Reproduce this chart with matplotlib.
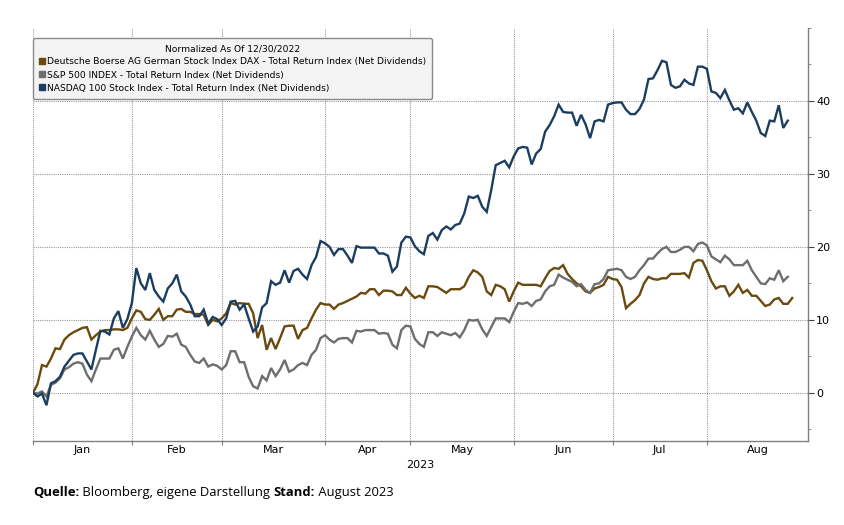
import numpy as np
import pandas as pd
import matplotlib.pyplot as plt
from matplotlib.lines import Line2D
from matplotlib.ticker import FixedLocator, NullFormatter

# Trading calendar of the chart (weekdays, without Jan 2 and Good Friday)
days = pd.bdate_range('2022-12-30', '2023-08-31')
days = days.drop(pd.to_datetime(['2023-01-02', '2023-04-07']))

months = ['Jan', 'Feb', 'Mar', 'Apr', 'May', 'Jun', 'Jul', 'Aug']
year_label = '2023'
legend_title = 'Normalized As Of 12/30/2022'
names = ['Deutsche Boerse AG German Stock Index DAX - Total Return Index (Net Dividends)',
         'S&P 500 INDEX - Total Return Index (Net Dividends)',
         'NASDAQ 100 Stock Index - Total Return Index (Net Dividends)']
colors = ['#6b4a0f', '#6e6e6e', '#1b3e60']
y_ticks = [0, 10, 20, 30, 40]

# performance in % since 12/30/2022, one value per trading day
dax = [0, 1.2, 3.8, 3.6, 4.7, 6.1, 6.0, 7.3, 7.9, 8.3,
       8.6, 8.9, 9.0, 7.3, 7.9, 8.4, 8.6, 8.6, 8.7, 8.7,
       8.6, 8.9, 10.2, 11.3, 11.1, 10.1, 10.0, 10.7, 11.5, 10.0,
       10.5, 10.5, 11.4, 11.5, 11.1, 11.1, 10.8, 10.8, 10.7, 9.3,
       10.0, 9.8, 10.2, 10.9, 12.3, 12.1, 12.3, 12.2, 12.2, 10.9,
       7.5, 9.3, 5.9, 7.5, 6.0, 7.5, 9.1, 9.2, 9.2, 7.4,
       8.6, 8.9, 10.2, 11.4, 12.3, 12.1, 12.1, 11.5, 12.1, 12.3,
       12.6, 12.9, 13.2, 13.7, 13.6, 14.2, 14.2, 13.4, 14.0, 14.0,
       13.9, 13.4, 13.4, 14.4, 13.6, 13.0, 13.3, 13.0, 14.6, 14.6,
       14.5, 14.1, 13.7, 14.2, 14.2, 14.2, 14.6, 15.9, 16.8, 16.5,
       15.9, 13.9, 13.4, 14.8, 14.6, 14.2, 12.5, 13.9, 15.1, 14.8,
       14.8, 14.8, 14.8, 14.6, 15.7, 16.7, 17.1, 17.0, 17.5, 16.3,
       15.6, 15.0, 14.6, 13.9, 13.7, 14.3, 14.5, 14.8, 15.9, 15.6,
       15.5, 14.5, 11.6, 12.2, 12.7, 13.4, 15.0, 15.9, 15.6, 15.5,
       15.7, 15.7, 16.3, 16.3, 16.3, 16.4, 15.8, 17.8, 18.2, 18.1,
       16.8, 15.3, 14.3, 14.6, 14.6, 13.3, 13.9, 14.8, 13.7, 14.1,
       13.3, 13.3, 12.6, 11.9, 12.1, 12.8, 13.0, 12.2, 12.2, 13.0]

spx = [0, -0.1, 0.2, -0.5, 1.1, 1.4, 2.0, 3.2, 3.5, 4.0,
       4.2, 4.0, 2.5, 1.6, 3.2, 4.7, 4.7, 4.7, 5.9, 6.1,
       4.7, 6.3, 7.7, 8.9, 7.9, 7.3, 8.5, 7.3, 6.3, 6.7,
       7.8, 7.7, 8.1, 6.6, 6.3, 5.2, 4.3, 4.1, 4.7, 3.6,
       3.9, 3.7, 3.2, 3.8, 5.7, 5.7, 4.2, 4.2, 2.2, 0.9,
       0.6, 2.3, 1.7, 3.4, 2.3, 3.2, 4.5, 2.9, 3.2, 3.8,
       4.1, 3.8, 5.2, 5.9, 7.5, 7.9, 7.3, 6.9, 7.4, 7.5,
       7.5, 6.9, 8.5, 8.4, 8.6, 8.6, 8.6, 8.1, 8.2, 8.1,
       6.6, 6.1, 8.6, 9.2, 9.1, 7.4, 6.7, 6.3, 8.3, 8.3,
       7.8, 8.3, 8.1, 7.9, 8.2, 7.6, 8.6, 10.0, 9.9, 10.0,
       8.7, 7.8, 9.0, 10.2, 10.2, 10.2, 9.7, 11.1, 12.3, 12.2,
       12.4, 11.9, 12.6, 12.8, 13.9, 14.6, 14.8, 16.2, 15.8, 15.5,
       15.2, 14.6, 14.9, 14.1, 13.7, 14.9, 15.0, 15.6, 16.8, 16.9,
       17.0, 16.8, 15.9, 15.6, 15.9, 16.8, 17.5, 18.4, 18.4, 19.1,
       19.7, 20.0, 19.3, 19.3, 19.6, 20.0, 20.0, 19.4, 20.4, 20.6,
       20.2, 18.7, 18.3, 17.9, 18.8, 18.3, 17.5, 17.5, 17.5, 18.1,
       16.8, 15.9, 15.0, 14.9, 15.7, 15.5, 16.8, 15.3, 15.9]

ndx = [0, -0.5, -0.1, -1.7, 1.3, 1.6, 2.2, 3.6, 4.4, 5.2,
       5.4, 5.4, 4.3, 3.2, 5.9, 8.5, 8.4, 8.0, 10.2, 11.2,
       8.9, 10.1, 12.3, 17.1, 15.0, 14.1, 16.4, 14.1, 13.2, 12.5,
       14.3, 15.0, 16.2, 13.9, 13.2, 12.1, 10.5, 10.5, 11.4, 9.5,
       10.4, 10.1, 9.3, 10.2, 12.5, 12.6, 11.4, 12.1, 10.2, 8.4,
       9.1, 11.7, 12.3, 15.3, 14.8, 15.1, 16.8, 15.1, 16.7, 17.0,
       16.2, 15.6, 17.5, 18.6, 20.8, 20.5, 20.0, 18.9, 19.7, 19.7,
       18.8, 17.8, 20.1, 19.9, 19.9, 19.9, 19.9, 19.1, 19.1, 18.8,
       16.6, 17.3, 20.6, 21.4, 21.3, 20.1, 19.4, 19.0, 21.5, 21.9,
       21.0, 22.3, 22.8, 22.4, 23.0, 23.2, 24.6, 26.9, 26.7, 27.0,
       25.5, 24.8, 27.8, 31.2, 31.5, 31.8, 30.9, 32.4, 33.5, 33.7,
       33.6, 31.3, 32.8, 33.4, 35.8, 36.7, 37.9, 39.5, 38.5, 38.4,
       38.4, 36.6, 38.1, 36.8, 34.9, 37.2, 37.4, 37.2, 39.5, 39.7,
       39.8, 39.8, 38.8, 38.2, 38.2, 38.9, 40.2, 43.0, 43.1, 44.2,
       45.5, 45.3, 42.2, 41.8, 42.0, 42.9, 42.4, 42.2, 44.7, 44.7,
       44.4, 41.3, 41.1, 40.4, 41.5, 40.1, 38.8, 39.0, 38.3, 39.8,
       38.5, 37.3, 35.6, 35.2, 37.3, 37.2, 39.4, 36.3, 37.3]

fig = plt.figure(figsize=(8.44, 5.25), dpi=100)
ax = fig.add_axes([0.0391, 0.160, 0.9182, 0.7867])

for values, color, name in zip([dax, spx, ndx], colors, names):
    ax.plot(np.arange(len(values)), values, color=color, lw=1.7, label=name,
            solid_joinstyle='miter')

# month boundaries on the trading-day axis
x_right = len(days) - 1 + 0.5
edges = [0] + [int(np.argmax(days.month == m)) for m in range(2, 9)] + [x_right]
centers = [(a + b) / 2 for a, b in zip(edges[:-1], edges[1:])]

ax.set_xlim(0, x_right)
ax.set_ylim(-6.6, 50)

ax.xaxis.set_major_locator(FixedLocator(edges[:-1]))
ax.xaxis.set_major_formatter(NullFormatter())
ax.xaxis.set_minor_locator(FixedLocator(centers))
ax.set_xticklabels(months, minor=True)
ax.tick_params(axis='x', which='major', length=3, color='#808080')
ax.tick_params(axis='x', which='minor', length=0, labelsize=8, pad=3)

ax.yaxis.tick_right()
ax.set_yticks(y_ticks)
ax.yaxis.set_minor_locator(FixedLocator([-5, 5, 15, 25, 35, 45, 50]))
ax.tick_params(axis='y', which='major', length=4, labelsize=8, pad=2, color='#404040')
ax.tick_params(axis='y', which='minor', length=2.5, color='#808080')

ax.grid(True, which='major', color='#9a9a9a', linestyle=(0, (1, 1)), lw=0.8)

for side in ['top', 'left']:
    ax.spines[side].set_visible(False)
for side in ['right', 'bottom']:
    ax.spines[side].set_color('#808080')
    ax.spines[side].set_linewidth(1.0)

ax.text(0.5, -0.045, year_label, transform=ax.transAxes, ha='center', va='top', fontsize=8)

# legend with square color markers
handles = [Line2D([], [], marker='s', linestyle='none', markersize=4.5, color=c) for c in colors]
leg = ax.legend(handles, names, title=legend_title, loc='upper left',
                bbox_to_anchor=(0.0, 0.976), borderaxespad=0, fontsize=6.6,
                title_fontsize=6.6, handlelength=0.6, handletextpad=0.2,
                labelspacing=0.45, borderpad=0.7, fancybox=True, framealpha=1)
leg.get_frame().set_facecolor('#f3f3f3')
leg.get_frame().set_edgecolor('#8a8a8a')
leg.get_frame().set_boxstyle('round', pad=0, rounding_size=0.2)

# footer with bold labels
parts = [('Quelle:', 'bold'), (' Bloomberg, eigene Darstellung ', 'normal'),
         ('Stand:', 'bold'), (' August 2023', 'normal')]
fig.canvas.draw()
renderer = fig.canvas.get_renderer()
x = 33 / 844
for txt, weight in parts:
    t = fig.text(x, 0.061, txt, fontsize=9.4, fontweight=weight, family='Open Sans',
                 ha='left', va='center')
    bb = t.get_window_extent(renderer)
    x += bb.width / fig.bbox.width

fig.savefig('out.png', dpi=100)
